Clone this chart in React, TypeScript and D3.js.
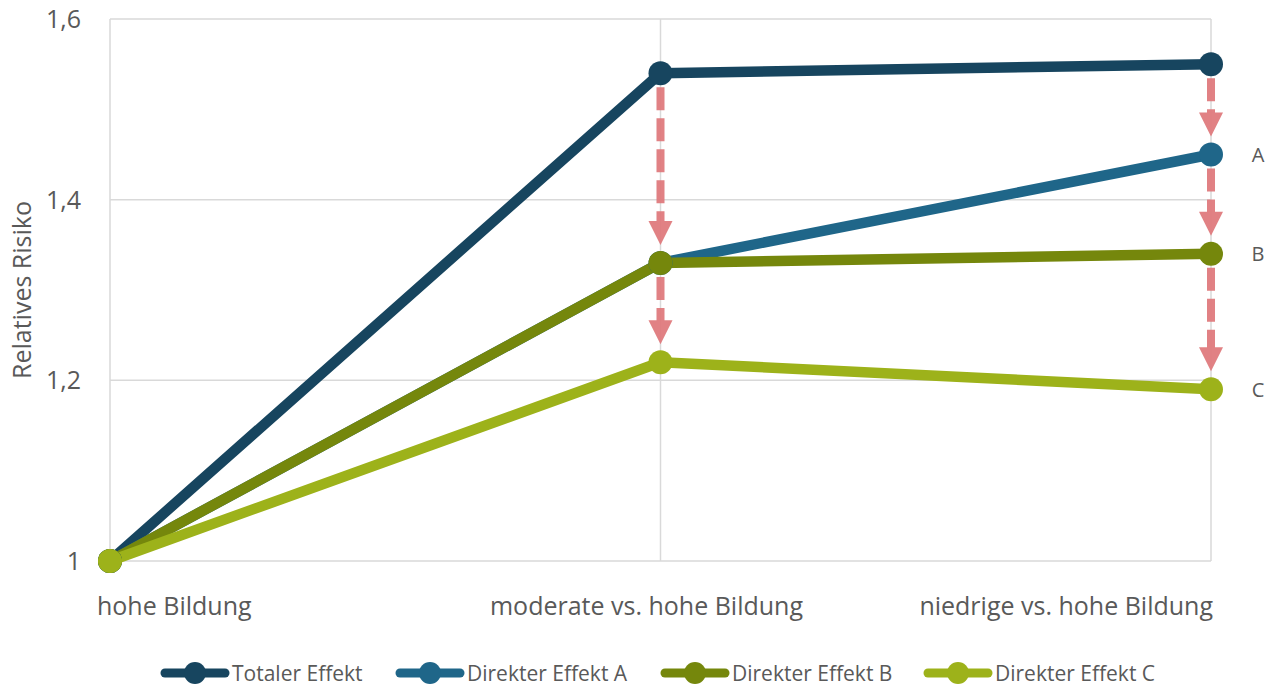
import React from "react";
import * as d3 from "d3";

const categories = ["hohe Bildung", "moderate vs. hohe Bildung", "niedrige vs. hohe Bildung"];
const seriesNames = ["Totaler Effekt", "Direkter Effekt A", "Direkter Effekt B", "Direkter Effekt C"];
const totalerEffekt = [1, 1.54, 1.55];
const direkterA = [1, 1.33, 1.45];
const direkterB = [1, 1.33, 1.34];
const direkterC = [1, 1.22, 1.19];
const yTicks = [1, 1.2, 1.4, 1.6];
const yTickLabels = ["1", "1,2", "1,4", "1,6"];
const endLabels = ["A", "B", "C"];
const colors = ["#17455f", "#1f6689", "#75870c", "#9db21a"];

const W = 1276;
const H = 687;

export default function App() {
  const x = d3.scalePoint<string>().domain(categories).range([110, 1211]);
  const y = d3.scaleLinear().domain([1, 1.6]).range([561, 19]);
  const series = [totalerEffekt, direkterA, direkterB, direkterC];
  const line = d3
    .line<number>()
    .x((_, i) => x(categories[i]) as number)
    .y((d) => y(d));

  const font = "'Open Sans', sans-serif";
  const textColor = "#595959";
  const grid = "#d9d9d9";
  const arrowColor = "#e07b7e";
  const r = 12;

  const arrows: { cx: number; from: number; to: number }[] = [];
  [1, 2].forEach((ci) => {
    const vals =
      ci === 1
        ? [totalerEffekt[1], direkterB[1], direkterC[1]]
        : [totalerEffekt[2], direkterA[2], direkterB[2], direkterC[2]];
    for (let k = 0; k < vals.length - 1; k++) {
      arrows.push({ cx: x(categories[ci]) as number, from: vals[k], to: vals[k + 1] });
    }
  });

  const labelAnchors: ("start" | "middle" | "end")[] = ["start", "middle", "end"];
  const labelShift = [-13, -14, 2];

  const legendX = [165, 400, 665, 928];
  const legendY = 673;

  return (
    <svg width={W} height={H} style={{ position: "absolute", left: 0, top: 0 }}>
      <rect width={W} height={H} fill="#fff" />
      {yTicks.slice(1).map((t) => (
        <line key={t} x1={110} x2={1211} y1={y(t)} y2={y(t)} stroke={grid} strokeWidth={1.5} />
      ))}
      {categories.map((c) => (
        <line key={c} x1={x(c)} x2={x(c)} y1={y(1.6)} y2={y(1)} stroke={grid} strokeWidth={1.5} />
      ))}
      <line x1={110} x2={1211} y1={y(1)} y2={y(1)} stroke={grid} strokeWidth={1.5} />
      {yTicks.map((t, i) => (
        <text key={t} x={81} y={y(t)} dy="0.36em" textAnchor="end" fontFamily={font} fontSize={25} fill={textColor}>
          {yTickLabels[i]}
        </text>
      ))}
      {categories.map((c, i) => (
        <text
          key={c}
          x={(x(c) as number) + labelShift[i]}
          y={615}
          textAnchor={labelAnchors[i]}
          fontFamily={font}
          fontSize={25}
          fill={textColor}
        >
          {c}
        </text>
      ))}
      <text
        transform={`translate(31,290) rotate(-90)`}
        textAnchor="middle"
        fontFamily={font}
        fontSize={25}
        fill={textColor}
      >
        Relatives Risiko
      </text>
      {series.map((s, si) => (
        <path key={si} d={line(s) || ""} fill="none" stroke={colors[si]} strokeWidth={10.5} strokeLinejoin="round" />
      ))}
      {series.map((s, si) =>
        s.map((v, i) => <circle key={`${si}-${i}`} cx={x(categories[i])} cy={y(v)} r={r} fill={colors[si]} />)
      )}
      {arrows.map((a, i) => {
        const y0 = y(a.from) + r + 2;
        const tip = y(a.to) - r - 6;
        const headH = 24;
        return (
          <g key={i} opacity={0.95}>
            <line
              x1={a.cx}
              x2={a.cx}
              y1={y0}
              y2={tip - headH + 1}
              stroke={arrowColor}
              strokeWidth={8}
              strokeDasharray="23 8"
            />
            <path
              d={`M${a.cx - 12},${tip - headH} L${a.cx + 12},${tip - headH} L${a.cx},${tip} Z`}
              fill={arrowColor}
            />
          </g>
        );
      })}
      {[direkterA[2], direkterB[2], direkterC[2]].map((v, i) => (
        <text key={i} x={1258} y={y(v)} dy="0.36em" textAnchor="middle" fontFamily={font} fontSize={20} fill={textColor}>
          {endLabels[i]}
        </text>
      ))}
      {seriesNames.map((n, i) => (
        <g key={n}>
          <line
            x1={legendX[i]}
            x2={legendX[i] + 60}
            y1={legendY}
            y2={legendY}
            stroke={colors[i]}
            strokeWidth={9}
            strokeLinecap="round"
          />
          <circle cx={legendX[i] + 30} cy={legendY} r={11} fill={colors[i]} />
          <text x={legendX[i] + 67} y={legendY} dy="0.36em" fontFamily={font} fontSize={21} fill={textColor}>
            {n}
          </text>
        </g>
      ))}
    </svg>
  );
}
